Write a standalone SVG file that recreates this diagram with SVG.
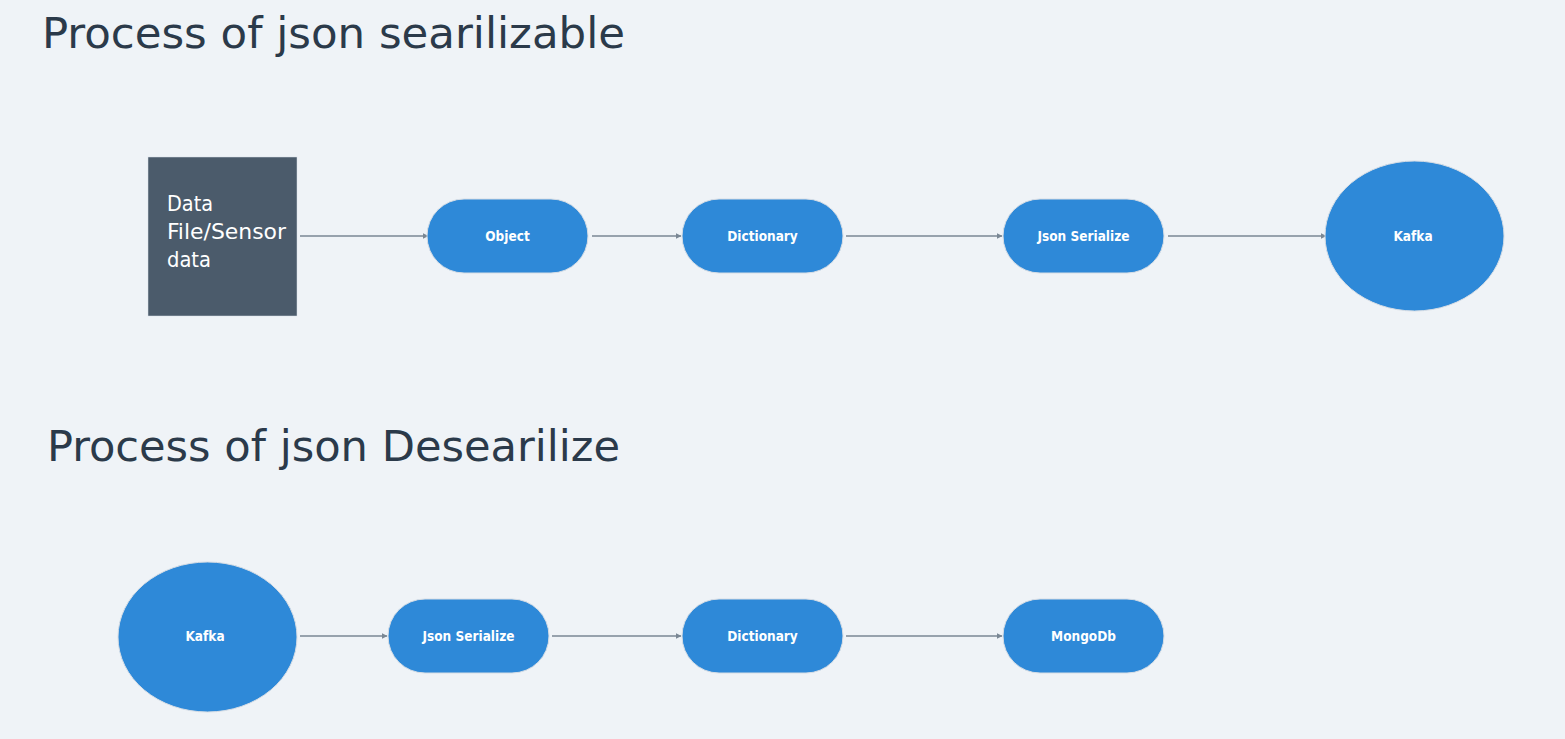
<svg xmlns="http://www.w3.org/2000/svg" width="1565" height="739" viewBox="0 0 1565 739">
<defs>
<style>
.title{font-family:"DejaVu Sans Condensed","Noto Sans",sans-serif;font-size:43px;fill:#2b3a4a}
.node{fill:#2e89d8;stroke:#d6dde5;stroke-width:1}
.lbl{font-family:"DejaVu Sans Condensed","Noto Sans",sans-serif;font-size:13.5px;font-weight:bold;fill:#ffffff;text-anchor:middle}
.src{font-family:"DejaVu Sans Condensed","Noto Sans",sans-serif;font-size:22px;fill:#ffffff}
.edge{stroke:#7a8794;stroke-width:1.5;fill:none;marker-end:url(#ah)}
</style>
<marker id="ah" viewBox="0 0 6 6" refX="5.5" refY="3" markerWidth="4" markerHeight="4" orient="auto" markerUnits="strokeWidth">
<path d="M0,0 L6,3 L0,6 z" fill="#7a8794"/>
</marker>
</defs>
<rect width="1565" height="739" fill="#eff3f7"/>
<text class="title" x="42" y="48" textLength="583" lengthAdjust="spacingAndGlyphs">Process of json searilizable</text>
<text class="title" x="47" y="461" textLength="573" lengthAdjust="spacingAndGlyphs">Process of json Desearilize</text>
<g id="connectors">
<line class="edge" x1="300" y1="236" x2="428" y2="236"/>
<line class="edge" x1="592" y1="236" x2="681" y2="236"/>
<line class="edge" x1="846" y1="236" x2="1002" y2="236"/>
<line class="edge" x1="1168" y1="236" x2="1326" y2="236"/>
<line class="edge" x1="300" y1="636" x2="387" y2="636"/>
<line class="edge" x1="552" y1="636" x2="681" y2="636"/>
<line class="edge" x1="846" y1="636" x2="1002" y2="636"/>
</g>
<g id="source">
<rect x="148" y="157" width="149" height="159" fill="#4b5b6b" stroke="#d6dde5" stroke-width="0.5"/>
<text class="src" x="167" y="211" textLength="46" lengthAdjust="spacingAndGlyphs">Data</text>
<text class="src" x="167" y="239" textLength="119" lengthAdjust="spacingAndGlyphs">File/Sensor</text>
<text class="src" x="167" y="267" textLength="44" lengthAdjust="spacingAndGlyphs">data</text>
</g>
<g id="object"><rect class="node" x="427" y="199" width="161" height="74" rx="37"/><text class="lbl" x="507.5" y="241">Object</text></g>
<g id="dictionary1"><rect class="node" x="682" y="199" width="161" height="74" rx="37"/><text class="lbl" x="762.5" y="241">Dictionary</text></g>
<g id="jsonser1"><rect class="node" x="1003" y="199" width="161" height="74" rx="37"/><text class="lbl" x="1083.5" y="241">Json Serialize</text></g>
<g id="kafka1"><ellipse class="node" cx="1414.5" cy="236" rx="89.5" ry="75"/><text class="lbl" x="1413" y="241">Kafka</text></g>
<g id="kafka2"><ellipse class="node" cx="207.5" cy="637" rx="89.5" ry="75"/><text class="lbl" x="205" y="641">Kafka</text></g>
<g id="jsonser2"><rect class="node" x="388" y="599" width="161" height="74" rx="37"/><text class="lbl" x="468.5" y="641">Json Serialize</text></g>
<g id="dictionary2"><rect class="node" x="682" y="599" width="161" height="74" rx="37"/><text class="lbl" x="762.5" y="641">Dictionary</text></g>
<g id="mongodb"><rect class="node" x="1003" y="599" width="161" height="74" rx="37"/><text class="lbl" x="1083.5" y="641">MongoDb</text></g>
</svg>
